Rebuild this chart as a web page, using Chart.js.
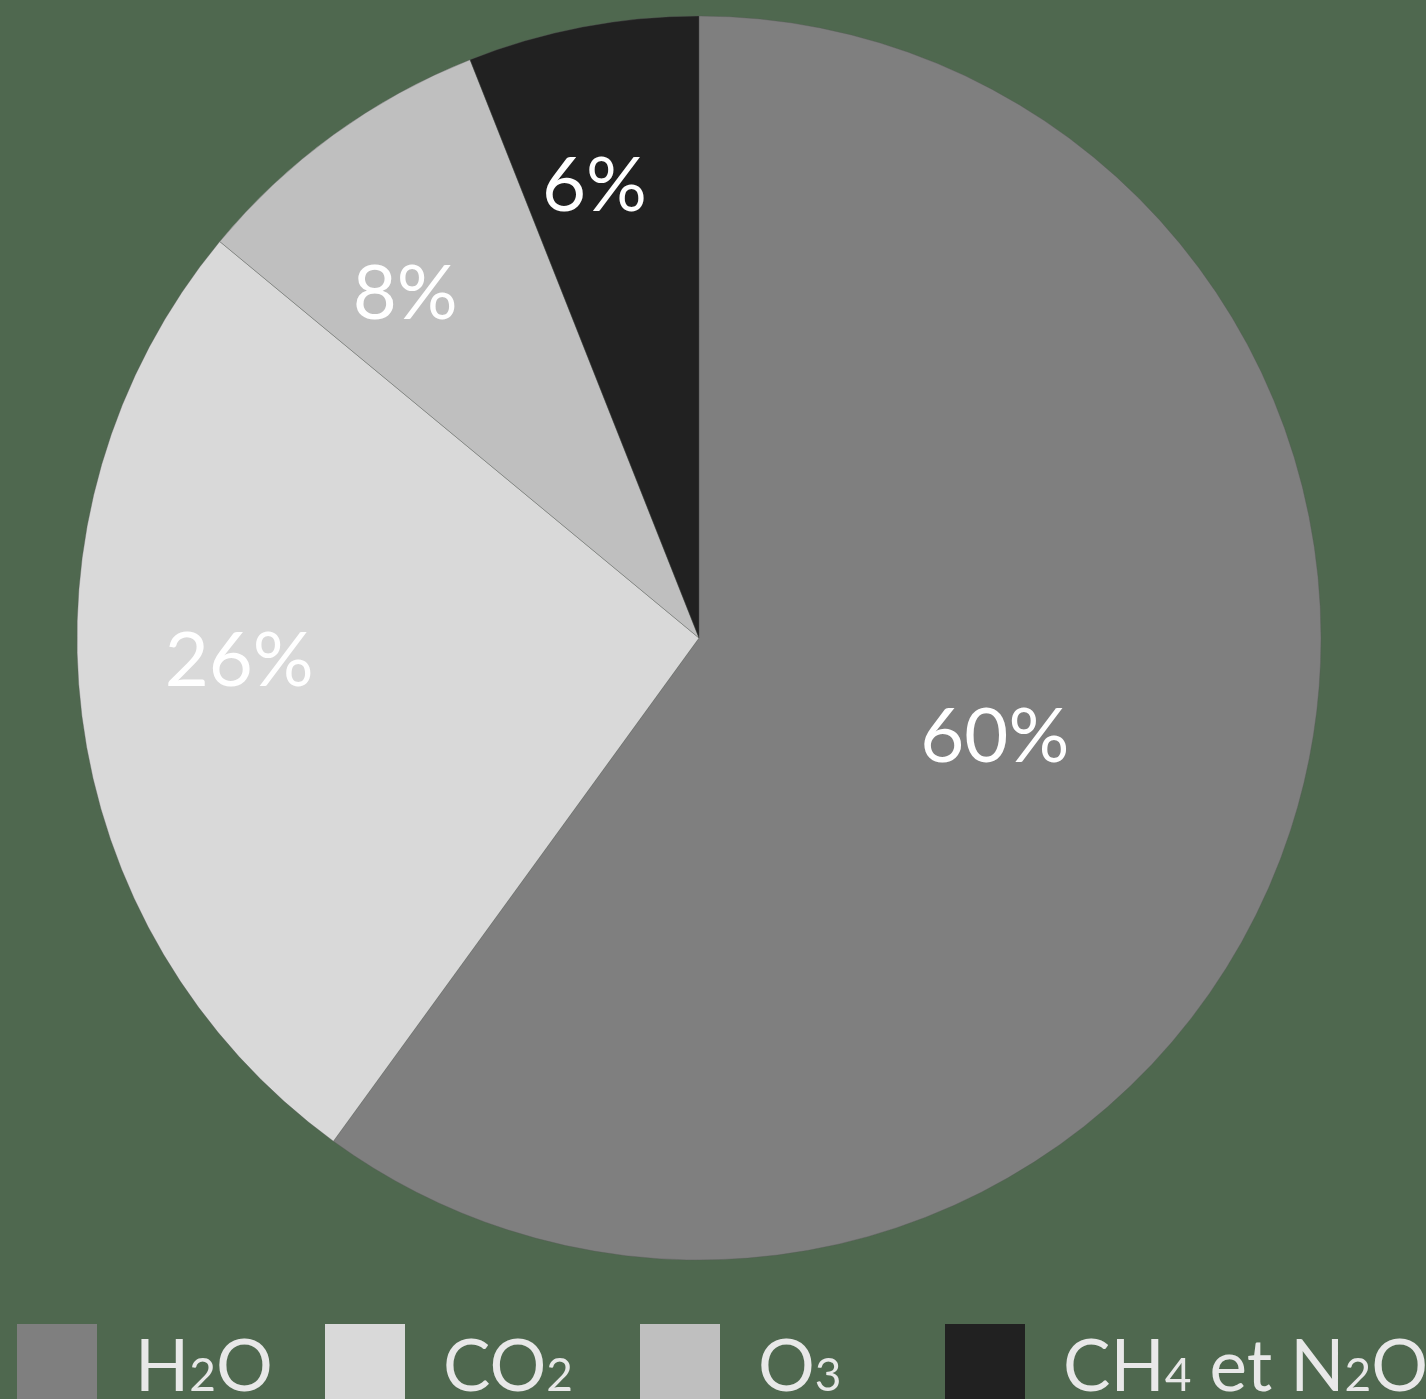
<!DOCTYPE html>
<html>
<head>
<meta charset="utf-8">
<script src="https://cdn.jsdelivr.net/npm/chart.js@4/dist/chart.umd.min.js"></script>
<style>
  html, body { margin: 0; padding: 0; background: #4f684f; }
  #wrap { width: 1426px; height: 1399px; position: relative; }
</style>
</head>
<body>
<div id="wrap"><canvas id="c" width="1426" height="1399"></canvas></div>
<script>
// Gas names, and the same names split into [text, isSubscript] runs
const gasLabels = ['H2O', 'CO2', 'O3', 'CH4 et N2O'];
const gasParts = [
  [['H', false], ['2', true], ['O', false]],
  [['CO', false], ['2', true]],
  [['O', false], ['3', true]],
  [['CH', false], ['4', true], [' et N', false], ['2', true], ['O', false]]
];
const shares = [60, 26, 8, 6];
const sliceColors = ['#7f7f7f', '#d9d9d9', '#bfbfbf', '#212121'];
// where each percentage sits: fraction across the slice, fraction of the radius
const labelAngleFrac = [0.50, 0.55, 0.35, 0.40];
const labelRadius = [0.50, 0.74, 0.73, 0.75];
const legendX = [17, 325, 640, 945];

const FONT = 'Lato, "Open Sans", sans-serif';

// Percentage labels placed inside each slice
const sliceLabels = {
  id: 'sliceLabels',
  afterDatasetsDraw(chart) {
    const ctx = chart.ctx;
    const meta = chart.getDatasetMeta(0);
    ctx.save();
    ctx.fillStyle = '#ffffff';
    ctx.font = '76px ' + FONT;
    ctx.textAlign = 'center';
    ctx.textBaseline = 'middle';
    meta.data.forEach((arc, i) => {
      const p = arc.getProps(['x', 'y', 'startAngle', 'endAngle', 'outerRadius'], true);
      const a = p.startAngle + (p.endAngle - p.startAngle) * labelAngleFrac[i];
      const r = p.outerRadius * labelRadius[i];
      ctx.fillText(shares[i] + '%', p.x + Math.cos(a) * r, p.y + Math.sin(a) * r + 3);
    });
    ctx.restore();
  }
};

// Legend row along the bottom, with chemical subscripts
const gasLegend = {
  id: 'gasLegend',
  afterDraw(chart) {
    const ctx = chart.ctx;
    ctx.save();
    const boxTop = 1324, box = 80;
    const base = 1391;
    gasLabels.forEach((name, i) => {
      const x0 = legendX[i];
      ctx.fillStyle = sliceColors[i];
      ctx.fillRect(x0, boxTop, box, box);
      let x = x0 + box + 38;
      ctx.fillStyle = '#e8e8e8';
      ctx.textBaseline = 'alphabetic';
      ctx.textAlign = 'left';
      gasParts[i].forEach(([txt, sub]) => {
        ctx.font = (sub ? '46px ' : '71px ') + FONT;
        ctx.fillText(txt, x, base);
        x += ctx.measureText(txt).width;
      });
    });
    ctx.restore();
  }
};

new Chart(document.getElementById('c'), {
  type: 'pie',
  data: {
    labels: gasLabels,
    datasets: [{
      data: shares,
      backgroundColor: sliceColors,
      borderColor: 'rgba(90,90,90,0.35)',
      borderWidth: 1
    }]
  },
  options: {
    responsive: false,
    animation: false,
    radius: 622,
    layout: { padding: { left: 77, right: 105, top: 16, bottom: 139 } },
    plugins: {
      legend: { display: false },
      tooltip: { enabled: false }
    }
  },
  plugins: [sliceLabels, gasLegend]
});
</script>
</body>
</html>
